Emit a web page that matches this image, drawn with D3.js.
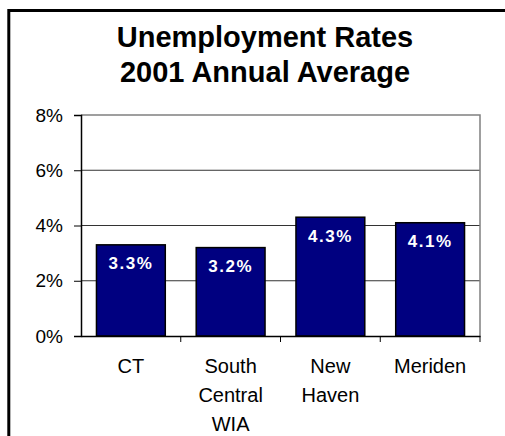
<!DOCTYPE html>
<html>
<head>
<meta charset="utf-8">
<script src="https://cdn.jsdelivr.net/npm/d3@7"></script>
<style>
  html, body { margin: 0; padding: 0; background: #fff; }
  svg { display: block; font-family: "Liberation Sans", Arial, sans-serif; }
</style>
</head>
<body>
<svg id="chart" width="505" height="436"></svg>
<script>
// data
const categories = ["CT", "South Central WIA", "New Haven", "Meriden"];
const rates = [3.3, 3.2, 4.3, 4.1];
const yTicks = [0, 2, 4, 6, 8];
const titleLines = ["Unemployment Rates", "2001 Annual Average"];

const svg = d3.select('#chart');
const margin = { top: 115, right: 25, bottom: 100, left: 81 };
const width = 505 - margin.left - margin.right;   // 399
const height = 436 - margin.top - margin.bottom;  // 221

// outer chart frame (only left and top edges are inside the picture)
svg.append('rect')
    .attr('x', 8.8).attr('y', 10.5)
    .attr('width', 540).attr('height', 460)
    .attr('fill', 'none')
    .attr('stroke', '#000')
    .attr('stroke-width', 3);

// title
svg.append('text')
    .attr('x', 265)
    .attr('text-anchor', 'middle')
    .attr('font-size', 29)
    .attr('font-weight', 'bold')
    .selectAll('tspan')
    .data(titleLines)
    .join('tspan')
    .attr('x', 265)
    .attr('y', (d, i) => 46.5 + i * 35)
    .text(d => d);

const g = svg.append('g')
    .attr('transform', `translate(${margin.left},${margin.top})`);

const x = d3.scaleBand()
    .domain(categories)
    .range([0, width])
    .paddingInner(0.31)
    .paddingOuter(0.155);

const y = d3.scaleLinear()
    .domain([0, 8])
    .range([height, 0]);

// gridlines
g.append('g')
    .selectAll('line')
    .data(yTicks.filter(t => t > 0 && t < 8))
    .join('line')
    .attr('x1', 0).attr('x2', width)
    .attr('y1', d => y(d)).attr('y2', d => y(d))
    .attr('stroke', '#333')
    .attr('stroke-width', 1);

// plot frame top/right in grey
g.append('path')
    .attr('d', `M0,${y(8)}H${width}V${height}`)
    .attr('fill', 'none')
    .attr('stroke', '#808080')
    .attr('stroke-width', 1.5);

// bars
g.append('g')
    .selectAll('rect')
    .data(rates)
    .join('rect')
    .attr('x', (d, i) => x(categories[i]))
    .attr('y', d => y(d))
    .attr('width', x.bandwidth())
    .attr('height', d => height - y(d))
    .attr('fill', '#000080')
    .attr('stroke', '#000')
    .attr('stroke-width', 1.5);

// value labels
g.append('g')
    .selectAll('text')
    .data(rates)
    .join('text')
    .attr('x', (d, i) => x(categories[i]) + x.bandwidth() / 2)
    .attr('y', d => y(d) + 24.5)
    .attr('text-anchor', 'middle')
    .attr('font-size', 17)
    .attr('font-weight', 'bold')
    .attr('letter-spacing', 1.5)
    .attr('fill', '#fff')
    .text(d => d.toFixed(1) + '%');

// y axis
const yAxis = g.append('g')
    .call(d3.axisLeft(y).tickValues(yTicks).tickSize(7).tickPadding(11).tickFormat(d => d + '%'));
yAxis.select('.domain').attr('stroke', '#000').attr('stroke-width', 1.5);
yAxis.selectAll('.tick line').attr('stroke', '#000');
yAxis.selectAll('text').attr('font-size', 19).attr('font-family', null).attr('fill', '#000');

// x axis: ticks sit on category boundaries
const xAxis = g.append('g')
    .attr('transform', `translate(0,${height})`)
    .call(d3.axisBottom(x).tickSize(0).tickPadding(0).tickFormat(''));
xAxis.select('.domain').attr('stroke', '#000').attr('stroke-width', 1.5);
xAxis.selectAll('.tick').remove();
xAxis.selectAll('line.sep')
    .data(categories)
    .join('line')
    .attr('class', 'sep')
    .attr('x1', d => x(d) + x.bandwidth() + x.step() * x.paddingInner() / 2)
    .attr('x2', d => x(d) + x.bandwidth() + x.step() * x.paddingInner() / 2)
    .attr('y1', 0).attr('y2', 6)
    .attr('stroke', '#000');

xAxis.selectAll('text.cat')
    .data(categories)
    .join('text')
    .attr('class', 'cat')
    .attr('text-anchor', 'middle')
    .attr('font-size', 20)
    .attr('fill', '#000')
    .selectAll('tspan')
    .data(d => d.split(' ').map(w => ({ w, c: d })))
    .join('tspan')
    .attr('x', d => x(d.c) + x.bandwidth() / 2)
    .attr('y', (d, i) => 37 + i * 29)
    .text(d => d.w);
</script>
</body>
</html>
